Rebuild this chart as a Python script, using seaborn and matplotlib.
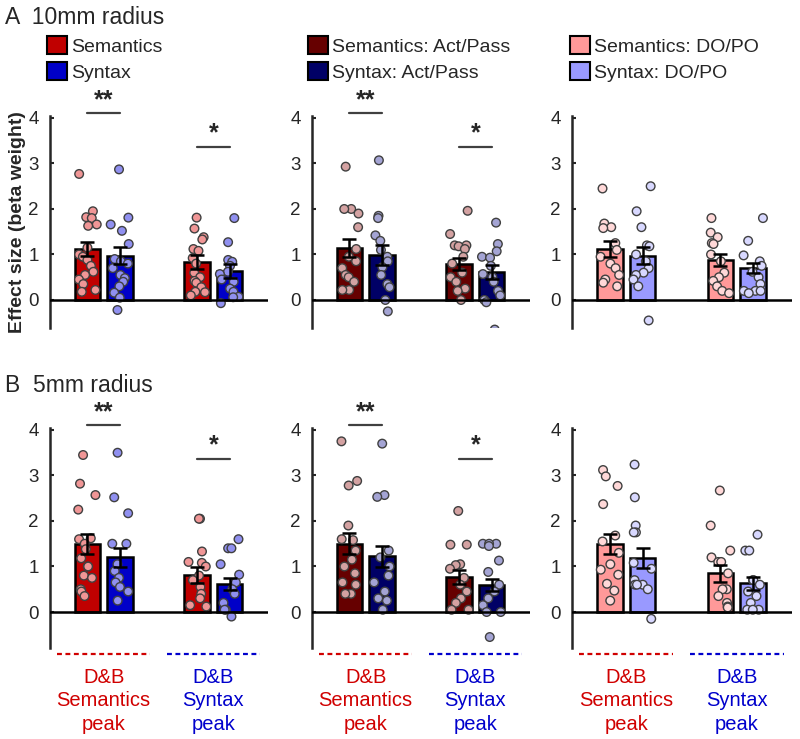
import numpy as np
import pandas as pd
import matplotlib
matplotlib.use("Agg")
import matplotlib.pyplot as plt
import seaborn as sns
from matplotlib.patches import Patch
from matplotlib import font_manager

# ---------------- data ----------------
# bar order in every panel: [Sem @ Sem-peak, Syn @ Sem-peak, Sem @ Syn-peak, Syn @ Syn-peak]
tasks = ["Semantics", "Syntax", "Semantics", "Syntax"]
yticks = [0, 1, 2, 3, 4]

# 10 mm radius
means_A1 = [1.12, 0.97, 0.83, 0.64]
se_A1 = [0.16, 0.19, 0.15, 0.15]
pts_A1 = [
    [2.77, 1.95, 1.82, 1.80, 1.66, 1.63, 1.15, 1.00, 0.95, 0.88, 0.75, 0.62, 0.55, 0.45, 0.35, 0.22, 0.18],
    [2.87, 1.81, 1.66, 1.52, 1.23, 0.90, 0.85, 0.80, 0.70, 0.55, 0.48, 0.40, 0.30, 0.16, 0.05, -0.22],
    [1.81, 1.57, 1.38, 1.33, 1.12, 1.08, 0.92, 0.80, 0.60, 0.50, 0.42, 0.38, 0.28, 0.18, 0.17, 0.10],
    [1.80, 1.27, 0.88, 0.84, 0.75, 0.62, 0.57, 0.45, 0.40, 0.25, 0.18, 0.07, 0.06, -0.07],
]
means_A2 = [1.15, 0.98, 0.80, 0.61]
se_A2 = [0.20, 0.22, 0.13, 0.15]
pts_A2 = [
    [2.93, 2.00, 2.00, 1.90, 1.60, 1.12, 0.95, 0.85, 0.70, 0.55, 0.50, 0.40, 0.22, 0.22],
    [3.07, 1.85, 1.80, 1.42, 1.30, 1.10, 0.95, 0.85, 0.72, 0.55, 0.35, 0.28, 0.00, -0.25],
    [1.96, 1.45, 1.20, 1.20, 1.18, 1.12, 0.95, 0.80, 0.60, 0.50, 0.40, 0.25, 0.20, 0.00],
    [1.70, 1.23, 1.07, 0.95, 0.93, 0.75, 0.57, 0.50, 0.40, 0.20, 0.10, 0.00, -0.05, -0.65],
]
means_A3 = [1.12, 0.97, 0.88, 0.71]
se_A3 = [0.17, 0.19, 0.14, 0.11]
pts_A3 = [
    [2.45, 1.68, 1.60, 1.58, 1.25, 1.10, 0.95, 0.80, 0.70, 0.55, 0.45, 0.38, 0.30],
    [2.50, 1.95, 1.60, 1.20, 1.18, 1.00, 0.85, 0.70, 0.60, 0.55, 0.45, 0.30, -0.45],
    [1.80, 1.48, 1.38, 1.25, 1.23, 1.00, 0.85, 0.60, 0.50, 0.42, 0.30, 0.20, 0.15],
    [1.80, 1.30, 0.98, 0.85, 0.75, 0.62, 0.50, 0.35, 0.20, 0.20, 0.20, 0.15],
]

# 5 mm radius
means_B1 = [1.50, 1.20, 0.81, 0.61]
se_B1 = [0.22, 0.21, 0.17, 0.13]
pts_B1 = [
    [3.45, 2.82, 2.57, 2.25, 1.62, 1.60, 1.50, 1.38, 1.18, 1.00, 1.00, 0.80, 0.75, 0.50, 0.45, 0.35],
    [3.50, 2.52, 2.17, 1.50, 1.50, 1.05, 0.90, 0.75, 0.65, 0.55, 0.45, 0.25],
    [2.05, 2.05, 1.33, 1.10, 1.08, 1.00, 0.80, 0.70, 0.55, 0.40, 0.30, 0.15, 0.12],
    [1.60, 1.40, 1.40, 1.05, 0.82, 0.65, 0.50, 0.40, 0.20, 0.05, 0.05, -0.10],
]
means_B2 = [1.50, 1.22, 0.77, 0.59]
se_B2 = [0.23, 0.24, 0.15, 0.13]
pts_B2 = [
    [3.75, 2.88, 2.78, 1.90, 1.60, 1.58, 1.35, 1.15, 1.00, 0.85, 0.65, 0.60, 0.40, 0.40],
    [3.70, 2.57, 2.53, 1.35, 1.20, 1.00, 0.80, 0.65, 0.45, 0.30, 0.25, 0.05],
    [2.22, 1.48, 1.48, 1.05, 1.03, 0.95, 0.75, 0.60, 0.45, 0.30, 0.20, 0.05, 0.05],
    [1.50, 1.50, 1.50, 1.45, 1.13, 0.88, 0.60, 0.45, 0.30, 0.15, 0.00, 0.00, -0.55],
]
means_B3 = [1.50, 1.18, 0.85, 0.63]
se_B3 = [0.22, 0.22, 0.18, 0.14]
pts_B3 = [
    [3.12, 2.98, 2.77, 2.37, 1.68, 1.55, 1.30, 1.05, 0.93, 0.82, 0.62, 0.47, 0.25],
    [3.24, 2.52, 1.90, 1.75, 1.75, 1.08, 0.95, 0.70, 0.60, 0.60, 0.60, 0.50, -0.15],
    [2.67, 1.90, 1.35, 1.20, 1.10, 1.10, 0.85, 0.50, 0.50, 0.35, 0.20, 0.12, 0.10],
    [1.70, 1.35, 1.35, 0.70, 0.70, 0.60, 0.45, 0.35, 0.20, 0.05, 0.05, 0.05],
]

legend_labels_1 = ["Semantics", "Syntax"]
legend_labels_2 = ["Semantics: Act/Pass", "Syntax: Act/Pass"]
legend_labels_3 = ["Semantics: DO/PO", "Syntax: DO/PO"]
group_labels = ["D&B\nSemantics\npeak", "D&B\nSyntax\npeak"]
row_titles = ["A  10mm radius", "B  5mm radius"]
ylabel = "Effect size (beta weight)"

# ---------------- styles ----------------
bar_cols = [("#C00000", "#0000C8"), ("#660000", "#000066"), ("#FF9999", "#9999FF")]
pt_cols = [("#F09696", "#9090F0"), ("#D4A2A2", "#A4A4D4"), ("#FFD8D8", "#D8D8FF")]
label_cols = ["#D00000", "#0000CC"]

sns.set_style("ticks")
plt.rcParams["font.family"] = ["Liberation Sans", "DejaVu Sans"]
names = {f.name for f in font_manager.fontManager.ttflist}
narrow = "Liberation Sans Narrow" if "Liberation Sans Narrow" in names else "Liberation Sans"
label_fs = 15 if narrow == "Liberation Sans Narrow" else 14.5

np.random.seed(7)

POS = [0.0, 1.0, 3.37, 4.37]
W, H = 800, 739
fig = plt.figure(figsize=(W / 100, H / 100), dpi=100)

col_left = [50, 312, 572]
col_width = [218, 218, 220]
rows_px = [(115.7, 328.2, (-0.62, 4.05)), (427.7, 647.5, (-0.78, 4.05))]


def draw_panel(ax, means, ses, pts, bcols, pcols):
    pal_b = {"Semantics": bcols[0], "Syntax": bcols[1]}
    pal_p = {"Semantics": pcols[0], "Syntax": pcols[1]}
    dfm = pd.DataFrame({"pos": POS, "mean": means, "task": tasks})
    sns.barplot(data=dfm, x="pos", y="mean", hue="task", palette=pal_b,
                native_scale=True, dodge=False, width=0.78, edgecolor="black",
                linewidth=1.8, errorbar=None, legend=False, saturation=1,
                ax=ax, zorder=2)
    rows = []
    for p, t, vals in zip(POS, tasks, pts):
        for v in vals:
            rows.append((p, v, t))
    dfp = pd.DataFrame(rows, columns=["pos", "value", "task"])
    sns.stripplot(data=dfp, x="pos", y="value", hue="task", palette=pal_p,
                  native_scale=True, dodge=False, jitter=0.3, size=6.2,
                  edgecolor="#404040", linewidth=1.0, legend=False, ax=ax, zorder=3)
    ax.errorbar(POS, means, yerr=ses, fmt="none", ecolor="black", elinewidth=1.8,
                capsize=5, capthick=1.8, zorder=4)


def sig(ax, x0, x1, y, txt):
    ax.plot([x0, x1], [y, y], color="#404040", lw=1.6, clip_on=False, zorder=5)
    ax.text((x0 + x1) / 2, y + 0.03, txt, ha="center", va="bottom", fontsize=18,
            fontweight="bold", clip_on=False)


panels = [
    [(means_A1, se_A1, pts_A1), (means_A2, se_A2, pts_A2), (means_A3, se_A3, pts_A3)],
    [(means_B1, se_B1, pts_B1), (means_B2, se_B2, pts_B2), (means_B3, se_B3, pts_B3)],
]
legends = [legend_labels_1, legend_labels_2, legend_labels_3]
legend_x = [47, 308, 570]

for r, (top_px, bot_px, ylim) in enumerate(rows_px):
    for c in range(3):
        ax = fig.add_axes([col_left[c] / W, 1 - bot_px / H, col_width[c] / W, (bot_px - top_px) / H])
        means, ses, pts = panels[r][c]
        draw_panel(ax, means, ses, pts, bar_cols[c], pt_cols[c])
        ax.set_xlim(-1.15, 5.55)
        ax.set_ylim(*ylim)
        ax.set_xticks([])
        ax.set_xlabel("")
        ax.set_yticks(yticks)
        ax.set_yticklabels([str(t) for t in yticks])
        ax.set_ylabel("")
        sns.despine(ax=ax, bottom=True)
        ax.spines["left"].set_linewidth(1.8)
        ax.tick_params(axis="y", direction="in", length=3, width=1.5, labelsize=13.5, pad=8)
        ax.axhline(0, color="black", lw=1.8, zorder=6)
        if c < 2:
            sig(ax, POS[0], POS[1], 4.1, "**")
            sig(ax, POS[2], POS[3], 3.37, "*")
        if r == 0 and c == 0:
            ax.set_ylabel(ylabel, fontsize=14, fontweight="bold", labelpad=2)
        if r == 1:
            for g, (gl, gc) in enumerate(zip(group_labels, label_cols)):
                cx = (POS[2 * g] + POS[2 * g + 1]) / 2
                ax.plot([cx - 1.43, cx + 1.43], [-0.92, -0.92], color=gc, lw=1.6,
                        ls=(0, (2.2, 1.6)), clip_on=False)
                ax.text(cx, -1.22, gl, color=gc, ha="center", va="top", fontsize=label_fs,
                        family=narrow, linespacing=1.3, clip_on=False)
        if r == 0:
            handles = [Patch(facecolor=bar_cols[c][k], edgecolor="black", linewidth=1.5,
                             label=legends[c][k]) for k in range(2)]
            fig.legend(handles=handles, loc="upper left",
                       bbox_to_anchor=(legend_x[c] / W, 1 - 36 / H), frameon=False,
                       fontsize=14, handlelength=1.05, handleheight=1.05,
                       handletextpad=0.2, labelspacing=0.33, borderpad=0, borderaxespad=0)

fig.text(5 / W, 1 - 18 / H, row_titles[0], fontsize=16.5, va="center", ha="left")
fig.text(5 / W, 1 - 385 / H, row_titles[1], fontsize=16.5, va="center", ha="left")

fig.savefig("out.png", dpi=100)
